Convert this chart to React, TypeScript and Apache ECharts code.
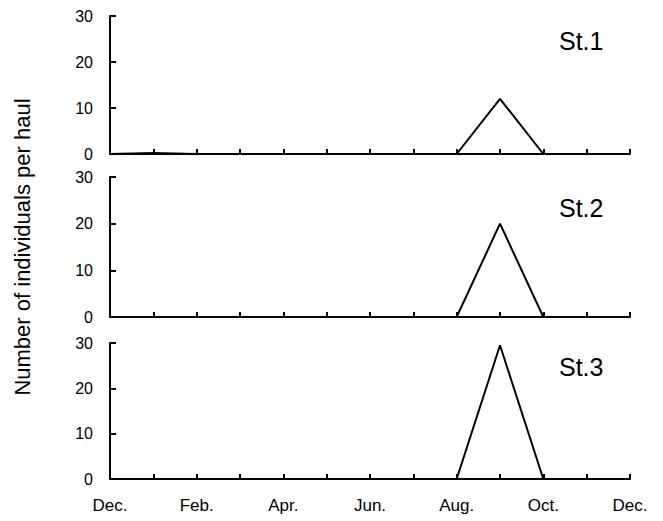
import React, { useEffect, useRef } from "react";
import * as echarts from "echarts";

const months = ["Dec.", "Jan.", "Feb.", "Mar.", "Apr.", "May", "Jun.", "Jul.", "Aug.", "Sep.", "Oct.", "Nov.", "Dec."];
const st1 = [0, 0.2, 0, 0, 0, 0, 0, 0, 0, 12, 0, 0, 0];
const st2 = [0, 0, 0, 0, 0, 0, 0, 0, 0, 20, 0, 0, 0];
const st3 = [0, 0, 0, 0, 0, 0, 0, 0, 0, 29.5, 0, 0, 0];
const stationNames = ["St.1", "St.2", "St.3"];
const yTicks = { min: 0, max: 30, interval: 10 };
const yTitle = "Number of individuals per haul";

export default function App() {
  const ref = useRef<HTMLDivElement>(null);
  useEffect(() => {
    if (!ref.current) return;
    const chart = echarts.init(ref.current, null, { renderer: "svg" });
    const font = "'Liberation Sans', Arial, sans-serif";
    const grids = [
      { left: 110, right: 33, top: 16, height: 138, outerBoundsMode: "none", containLabel: false },
      { left: 110, right: 33, top: 177, height: 140, outerBoundsMode: "none", containLabel: false },
      { left: 110, right: 33, top: 343, height: 136, outerBoundsMode: "none", containLabel: false },
    ];
    const data = [st1, st2, st3];
    const axisLine = { show: true, lineStyle: { color: "#000", width: 2 } };
    const option: any = {
      animation: false,
      backgroundColor: "#fff",
      grid: grids,
      xAxis: grids.map((_, i) => ({
        type: "category",
        gridIndex: i,
        data: months,
        boundaryGap: false,
        axisLine,
        axisTick: { show: true, inside: true, length: 5, interval: 0, lineStyle: { color: "#000", width: 2 } },
        axisLabel: {
          show: i === 2,
          interval: 1,
          color: "#000",
          fontFamily: font,
          fontSize: 17,
          margin: 18,
        },
        splitLine: { show: false },
      })),
      yAxis: grids.map((_, i) => ({
        type: "value",
        gridIndex: i,
        min: yTicks.min,
        max: yTicks.max,
        interval: yTicks.interval,
        name: i === 1 ? yTitle : "",
        nameLocation: "middle",
        nameGap: 77,
        nameTextStyle: { color: "#000", fontFamily: font, fontSize: 22 },
        axisLine,
        axisTick: { show: true, inside: true, length: 6, lineStyle: { color: "#000", width: 2 } },
        axisLabel: { color: "#000", fontFamily: font, fontSize: 16, margin: 17 },
        splitLine: { show: false },
      })),
      series: data.map((d, i) => ({
        type: "line",
        name: stationNames[i],
        xAxisIndex: i,
        yAxisIndex: i,
        data: d,
        showSymbol: false,
        symbol: "none",
        lineStyle: { color: "#000", width: 2 },
        z: 1,
      })),
      graphic: stationNames.map((n, i) => ({
        type: "text",
        left: 559,
        top: [28, 195, 354][i],
        style: { text: n, fontFamily: font, fontSize: 25, fill: "#000" },
      })),
    };
    chart.setOption(option);
    return () => chart.dispose();
  }, []);
  return <div ref={ref} style={{ position: "fixed", left: 0, top: 0, width: 663, height: 521 }} />;
}
